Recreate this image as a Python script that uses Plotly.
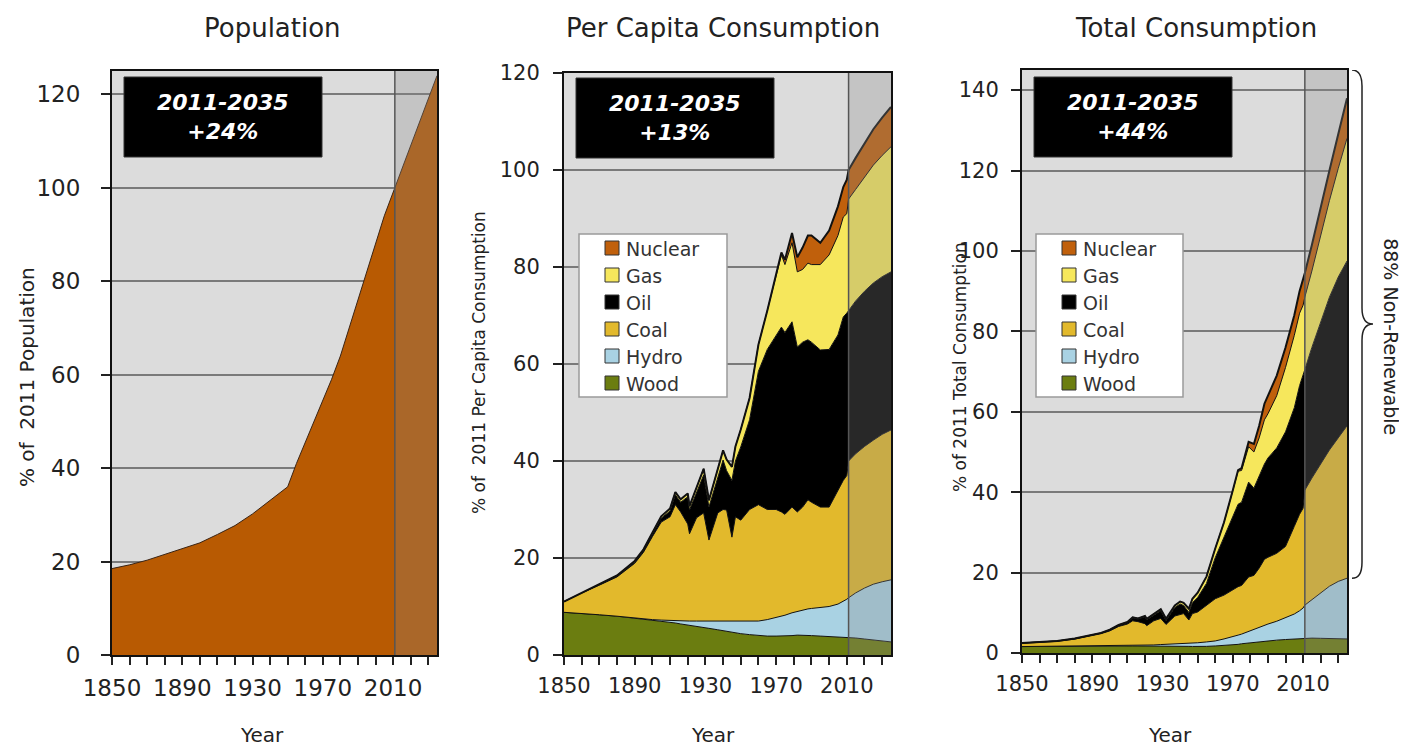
import plotly.graph_objects as go

OFF = 8                     # default page margin of the html body
W, H = 1407 - OFF, 747 - OFF
FONT = "DejaVu Sans"

# ---------------- data ----------------
pop_years = [1850, 1860, 1870, 1880, 1890, 1900, 1910, 1920, 1930, 1940, 1950,
             1955, 1960, 1965, 1970, 1975, 1980, 1985, 1990, 1995, 2000, 2005,
             2011, 2015, 2020, 2025, 2030, 2035]
pop_pct = [18.5, 19.3, 20.3, 21.5, 22.8, 24.0, 25.8, 27.7, 30.2, 33.0, 36.0,
           41.0, 45.5, 50.0, 54.5, 59.0, 64.0, 70.0, 76.5, 82.5, 88.0, 94.0,
           100.0, 104.0, 109.0, 114.0, 119.0, 124.0]

years = [1850, 1860, 1870, 1880, 1890,
         1895, 1900, 1905, 1910, 1913,
         1916, 1920, 1921, 1925, 1929,
         1932, 1937, 1940, 1942, 1945,
         1947, 1950, 1955, 1960, 1965,
         1970, 1973, 1975, 1979, 1982,
         1985, 1988, 1990, 1995, 2000,
         2005, 2008, 2010, 2011, 2015,
         2020, 2025, 2030, 2035]

# Per capita consumption: cumulative top of each stacked layer (% of 2011)
pc_wood_top = [8.8, 8.6, 8.3, 8.0, 7.6,
               7.4, 7.2, 7.0, 6.7, 6.6,
               6.4, 6.2, 6.2, 6.0, 5.7,
               5.5, 5.2, 5.0, 4.9, 4.7,
               4.6, 4.4, 4.2, 4.0, 3.9,
               3.9, 3.9, 4.0, 4.0, 4.1,
               4.1, 4.0, 4.0, 3.9, 3.8,
               3.8, 3.7, 3.7, 3.7, 3.5,
               3.3, 3.1, 2.9, 2.7]
pc_hydro_top = [8.8, 8.6, 8.3, 8.0, 7.6,
                7.45, 7.3, 7.2, 7.1, 7.1,
                7.0, 7.0, 7.0, 7.0, 7.0,
                7.0, 7.0, 7.0, 7.0, 7.0,
                7.0, 7.0, 7.0, 7.0, 7.3,
                7.7, 8.0, 8.2, 8.7, 9.0,
                9.3, 9.5, 9.6, 9.8, 10.0,
                10.5, 11.0, 11.5, 11.8, 12.8,
                13.8, 14.6, 15.1, 15.5]
pc_coal_top = [11.0, 12.8, 14.4, 16.1, 18.9,
               21.2, 24.4, 27.4, 28.5, 31.0,
               29.5, 27.0, 25.0, 28.3, 29.3,
               23.7, 29.3, 30.0, 29.9, 24.3,
               28.5, 27.8, 30.0, 31.0, 30.0,
               30.0, 29.5, 29.0, 30.5, 29.5,
               30.5, 32.0, 31.5, 30.5, 30.5,
               34.0, 36.0, 37.0, 40.0, 41.5,
               43.0, 44.3, 45.5, 46.4]
pc_oil_top = [11.0, 12.8, 14.5, 16.3, 19.2,
              21.6, 24.9, 28.2, 29.7, 33.0,
              31.5, 32.6, 29.9, 33.4, 37.1,
              30.5, 36.7, 40.2, 38.0, 36.0,
              40.0, 42.9, 48.5, 58.5, 63.0,
              66.0, 67.6, 66.5, 68.7, 63.5,
              64.5, 65.0, 64.5, 62.9, 63.0,
              66.0, 69.7, 70.5, 71.0, 73.0,
              75.0, 76.7, 78.0, 79.0]
pc_gas_top = [11.0, 12.8, 14.5, 16.4, 19.4,
              21.8, 25.2, 28.6, 30.2, 33.6,
              32.1, 33.3, 30.7, 34.4, 38.4,
              31.9, 38.4, 42.2, 40.3, 38.8,
              43.0, 46.5, 53.0, 64.0, 71.0,
              78.5, 82.5, 80.5, 85.0, 79.0,
              79.5, 80.8, 80.5, 80.5, 82.5,
              86.5, 90.3, 91.0, 94.0, 96.0,
              98.5, 101.0, 103.0, 104.8]
pc_nuclear_top = [11.0, 12.8, 14.5, 16.4, 19.4,
                  21.8, 25.2, 28.6, 30.2, 33.6,
                  32.1, 33.3, 30.7, 34.4, 38.4,
                  31.9, 38.4, 42.2, 40.3, 38.8,
                  43.0, 46.5, 53.0, 64.0, 71.0,
                  78.7, 83.0, 81.5, 87.0, 82.0,
                  84.0, 86.5, 86.5, 85.0, 87.5,
                  92.5, 96.5, 98.0, 100.0, 102.5,
                  105.5, 108.4, 110.8, 113.0]

# Total consumption: cumulative top of each stacked layer (% of 2011)
tc_wood_top = [1.6, 1.65, 1.7, 1.7, 1.75,
               1.75, 1.7, 1.72, 1.73, 1.74,
               1.74, 1.75, 1.75, 1.75, 1.7,
               1.7, 1.68, 1.65, 1.65, 1.65,
               1.63, 1.6, 1.65, 1.75, 1.85,
               2.05, 2.15, 2.3, 2.5, 2.7,
               2.85, 2.95, 3.05, 3.2, 3.35,
               3.5, 3.6, 3.7, 3.75, 3.7,
               3.65, 3.6, 3.55, 3.5]
tc_hydro_top = [1.6, 1.65, 1.7, 1.7, 1.75,
                1.75, 1.75, 1.8, 1.85, 1.85,
                1.9, 1.95, 1.95, 2.0, 2.1,
                2.15, 2.25, 2.3, 2.35, 2.45,
                2.5, 2.55, 2.75, 3.0, 3.5,
                4.0, 4.45, 4.7, 5.4, 5.9,
                6.4, 6.9, 7.2, 7.9, 8.7,
                9.7, 10.5, 11.2, 11.9, 13.3,
                15.0, 16.6, 17.8, 18.6]
tc_coal_top = [2.4, 2.6, 2.9, 3.45, 4.3,
               4.8, 5.5, 6.6, 7.2, 8.0,
               7.8, 7.3, 6.8, 8.0, 8.6,
               7.1, 9.2, 9.6, 9.8, 8.2,
               9.8, 10.2, 11.8, 13.5, 14.4,
               15.8, 16.5, 16.8, 18.9, 19.3,
               21.1, 23.3, 23.8, 24.8, 26.5,
               31.5, 34.5, 36.0, 40.5, 43.5,
               47.0, 50.5, 53.5, 56.5]
tc_oil_top = [2.5, 2.7, 3.0, 3.55, 4.45,
              4.95, 5.7, 6.9, 7.6, 8.75,
              8.45, 9.0, 8.3, 9.5, 10.5,
              8.1, 11.3, 12.2, 11.8, 10.1,
              12.5, 13.8, 17.3, 23.7, 29.0,
              34.0, 37.0, 37.5, 42.5, 41.0,
              44.0, 47.0, 48.5, 51.0, 55.0,
              61.0, 66.5, 69.0, 70.5, 76.0,
              82.5, 88.5, 93.5, 97.5]
tc_gas_top = [2.5, 2.7, 3.0, 3.6, 4.5,
              5.0, 5.8, 7.0, 7.7, 8.9,
              8.6, 9.2, 8.5, 9.8, 10.9,
              8.5, 11.8, 12.8, 12.5, 11.0,
              13.5, 15.0, 19.0, 26.0, 32.5,
              40.4, 45.2, 45.4, 51.3, 50.0,
              53.5, 58.0, 59.5, 64.0, 71.0,
              79.0, 84.5, 86.5, 88.5, 95.0,
              104.0, 112.5, 120.5, 128.0]
tc_nuclear_top = [2.5, 2.7, 3.0, 3.6, 4.5,
                  5.0, 5.8, 7.0, 7.7, 8.9,
                  8.6, 9.2, 8.5, 9.8, 10.9,
                  8.5, 11.8, 12.8, 12.5, 11.0,
                  13.5, 15.0, 19.0, 26.0, 32.5,
                  40.5, 45.5, 46.0, 52.5, 52.0,
                  56.5, 62.0, 64.0, 69.0, 76.0,
                  84.0, 90.0, 93.0, 94.5, 101.5,
                  111.0, 120.0, 129.0, 138.0]

sources = ["Wood", "Hydro", "Coal", "Oil", "Gas", "Nuclear"]
colors = {"Wood": "#6b7d10", "Hydro": "#a9d2e3", "Coal": "#e2b92c",
          "Oil": "#000000", "Gas": "#f6e75c", "Nuclear": "#c0600c"}
pc_tops = [pc_wood_top, pc_hydro_top, pc_coal_top, pc_oil_top, pc_gas_top, pc_nuclear_top]
tc_tops = [tc_wood_top, tc_hydro_top, tc_coal_top, tc_oil_top, tc_gas_top, tc_nuclear_top]

titles = ["Population", "Per Capita Consumption", "Total Consumption"]
ytitles = ["% of  2011 Population", "% of  2011 Per Capita Consumption", "% of 2011 Total Consumption"]
growth = ["+24%", "+13%", "+44%"]
x_tick_labels = [1850, 1890, 1930, 1970, 2010]
proj_start, proj_end = 2011, 2035

# ---------------- geometry (screen pixels) ----------------
def PX(x):
    return (x - OFF) / W

def PY(y):
    return 1 - (y - OFF) / H

panels = [  # left, right, top, bottom, ymax, tickfont, ylabel standoff
    dict(l=112, r=437, t=71, b=655, ymax=125, tf=23, so=16),
    dict(l=564, r=891, t=73, b=655, ymax=120, tf=21, so=9),
    dict(l=1022, r=1347, t=70, b=653, ymax=145, tf=21, so=8),
]

fig = go.Figure()

# population
fig.add_trace(go.Scatter(x=pop_years, y=pop_pct, mode="lines", fill="tozeroy",
                         fillcolor="#b85a02", line=dict(color="#3b2414", width=1),
                         showlegend=False, xaxis="x", yaxis="y"))

for k, (tops, ax) in enumerate([(pc_tops, "2"), (tc_tops, "3")]):
    for i, (name, top) in enumerate(zip(sources, tops)):
        fig.add_trace(go.Scatter(
            x=years, y=top, mode="lines", name=name,
            fill="tozeroy" if i == 0 else "tonexty",
            fillcolor=colors[name],
            line=dict(color="#111111", width=2 if name == "Nuclear" else 1),
            showlegend=False, xaxis="x" + ax, yaxis="y" + ax))

layout = dict(width=W, height=H, margin=dict(l=0, r=0, t=0, b=0, autoexpand=False),
              template="none",
              paper_bgcolor="white", plot_bgcolor="#dcdcdc",
              font=dict(family=FONT, color="#222"))

tickvals = list(range(1850, 2031, 10))
ticktext = [str(v) if v in x_tick_labels else "" for v in tickvals]

shapes = []
annotations = []
for n, p in enumerate(panels):
    sfx = "" if n == 0 else str(n + 1)
    layout["xaxis" + sfx] = dict(
        domain=[PX(p["l"]), PX(p["r"])], range=[1850, 2035], anchor="y" + sfx,
        tickmode="array", tickvals=tickvals, ticktext=ticktext,
        ticks="outside", ticklen=8, tickwidth=1.5, tickcolor="#222",
        showline=True, linecolor="#111", linewidth=2, mirror=True,
        showgrid=False, zeroline=False, automargin=False, ticklabelstandoff=3,
        tickfont=dict(size=p["tf"], family=FONT, color="#222"))
    layout["yaxis" + sfx] = dict(
        domain=[PY(p["b"]), PY(p["t"])], range=[0, p["ymax"]], anchor="x" + sfx,
        tick0=0, dtick=20, ticks="outside", ticklen=9, tickwidth=1.5, tickcolor="#222",
        showline=True, linecolor="#111", linewidth=2, mirror=True,
        showgrid=True, gridcolor="#7a7a7a", gridwidth=1.5, zeroline=False,
        ticklabelstandoff=p["so"], automargin=False,
        tickfont=dict(size=p["tf"], family=FONT, color="#222"))

    xr, yr = "x" + sfx, "y" + sfx
    # projection shading
    shapes.append(dict(type="rect", xref=xr, yref=yr + " domain", x0=proj_start, x1=proj_end,
                       y0=0, y1=1, fillcolor="rgba(138,138,138,0.29)", line=dict(width=0),
                       layer="above"))
    shapes.append(dict(type="line", xref=xr, yref=yr + " domain", x0=proj_start, x1=proj_start,
                       y0=0, y1=1, line=dict(color="#555", width=1.5), layer="above"))
    # black label box
    bl = p["l"] + 12
    dy = 1 if n == 1 else 0
    shapes.append(dict(type="rect", xref="paper", yref="paper",
                       x0=PX(bl), x1=PX(bl + 198), y0=PY(157 + dy), y1=PY(77 + dy),
                       fillcolor="black", line=dict(color="#333", width=1), layer="above"))
    annotations.append(dict(xref="paper", yref="paper", x=PX(bl + 99), y=PY(117 + dy),
                            text="<b><i>%d-%d</i></b><br><b><i>%s</i></b>" % (proj_start, proj_end, growth[n]),
                            showarrow=False, font=dict(size=22, color="white", family=FONT),
                            xanchor="center", yanchor="middle"))
    # titles
    tx = [272, 723, 1196][n]
    annotations.append(dict(xref="paper", yref="paper", x=PX(tx), y=PY(28), text=titles[n],
                            showarrow=False, font=dict(size=26, family=FONT, color="#222"),
                            xanchor="center", yanchor="middle"))
    yx = [262, 713, 1170][n]
    annotations.append(dict(xref="paper", yref="paper", x=PX(yx), y=PY(735), text="Year",
                            showarrow=False, font=dict(size=20, family=FONT, color="#222"),
                            xanchor="center", yanchor="middle"))
    ytx, yty, ytf = [(27, 377, 20), (479, 363, 17), (960, 367, 17)][n]
    annotations.append(dict(xref="paper", yref="paper", x=PX(ytx), y=PY(yty), text=ytitles[n],
                            textangle=-90, showarrow=False,
                            font=dict(size=ytf, family=FONT, color="#222"),
                            xanchor="center", yanchor="middle"))

# manual legends for panels 2 and 3
legend_order = ["Nuclear", "Gas", "Oil", "Coal", "Hydro", "Wood"]
for (bx0, bx1, sq) in [(579, 727, 605), (1036, 1183, 1062)]:
    shapes.append(dict(type="rect", xref="paper", yref="paper",
                       x0=PX(bx0), x1=PX(bx1), y0=PY(397), y1=PY(234),
                       fillcolor="white", line=dict(color="#9a9a9a", width=1.5), layer="above"))
    for i, name in enumerate(legend_order):
        cy = 248 + 27 * i
        shapes.append(dict(type="rect", xref="paper", yref="paper",
                           x0=PX(sq), x1=PX(sq + 14), y0=PY(cy + 7), y1=PY(cy - 7),
                           fillcolor=colors[name], line=dict(color="#333", width=1), layer="above"))
        annotations.append(dict(xref="paper", yref="paper", x=PX(sq + 19), y=PY(cy + 1),
                                text=name, showarrow=False, xanchor="left", yanchor="middle",
                                font=dict(size=19, family=FONT, color="#333")))

# brace on the right of total consumption
top_v = 145
bot_v = tc_hydro_top[-1]
mid_v = (top_v + bot_v) / 2
x0, x1, x2 = PX(1352), PX(1362), PX(1373)
path = (f"M {x0},{top_v} Q {x1},{top_v} {x1},{top_v - 4} "
        f"L {x1},{mid_v + 4} Q {x1},{mid_v} {x2},{mid_v} "
        f"Q {x1},{mid_v} {x1},{mid_v - 4} "
        f"L {x1},{bot_v + 4} Q {x1},{bot_v} {x0},{bot_v}")
shapes.append(dict(type="path", xref="paper", yref="y3", path=path,
                   line=dict(color="#222", width=1.5)))
annotations.append(dict(xref="paper", yref="y3", x=PX(1391), y=mid_v - 3,
                        text="88% Non-Renewable", textangle=90, showarrow=False,
                        font=dict(size=19, family=FONT, color="#222"),
                        xanchor="center", yanchor="middle"))

layout["shapes"] = shapes
layout["annotations"] = annotations
fig.update_layout(**layout)
fig.write_html("out.html")
